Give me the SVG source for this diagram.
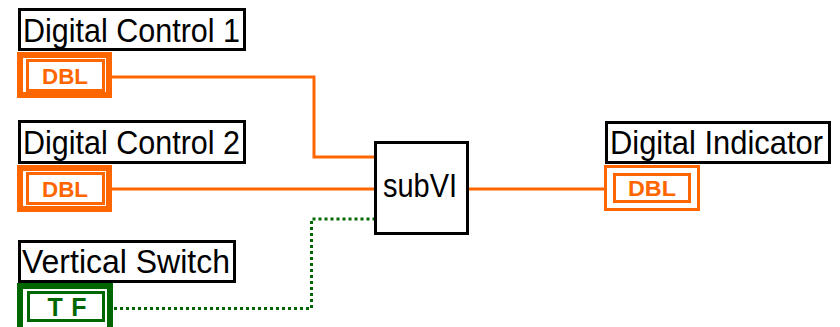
<svg xmlns="http://www.w3.org/2000/svg" width="840" height="327" viewBox="0 0 840 327">
<style>
.lbl{fill:#fff;stroke:#000;stroke-width:3}
.lt{font-family:"Liberation Sans",Arial,sans-serif;font-size:33px;fill:#000}
.ctl{fill:none;stroke:#FF6600;stroke-width:6}
.ind{fill:none;stroke:#FF6600;stroke-width:3}
.inr{fill:none;stroke:#FF6600;stroke-width:3}
.dbl{font-family:"Liberation Sans",Arial,sans-serif;font-size:22px;font-weight:bold;fill:#FF6600}
.tfo{fill:none;stroke:#006600;stroke-width:6}
.tfi{fill:none;stroke:#006600;stroke-width:3}
.tf{font-family:"Liberation Sans",Arial,sans-serif;font-size:25px;font-weight:bold;fill:#006600}
.w{fill:none;stroke:#FF6600;stroke-width:3}
.wb{fill:none;stroke:#006600;stroke-width:3;stroke-dasharray:3 3}
</style>
<rect width="840" height="327" fill="#fff"/>
<g id="connectors">
<polyline class="w" points="112,77 314,77 314,157 374,157"/>
<line class="w" x1="112" y1="189" x2="374" y2="189"/>
<polyline class="wb" points="114,308.5 311.5,308.5 311.5,219 374,219"/>
<line class="w" x1="469" y1="189" x2="605" y2="189"/>
</g>
<g id="dc1">
<rect class="lbl" x="19.5" y="9.5" width="225" height="40"/>
<text class="lt" x="23" y="42" textLength="217" lengthAdjust="spacingAndGlyphs">Digital Control 1</text>
<rect class="ctl" x="20" y="55" width="89" height="40"/>
<rect class="inr" x="27.5" y="60.5" width="76" height="30"/>
<text class="dbl" x="65" y="83.5" text-anchor="middle" textLength="46" lengthAdjust="spacingAndGlyphs">DBL</text>
</g>
<g id="dc2">
<rect class="lbl" x="19.5" y="121.5" width="225" height="41"/>
<text class="lt" x="23" y="154" textLength="217" lengthAdjust="spacingAndGlyphs">Digital Control 2</text>
<rect class="ctl" x="20" y="168" width="89" height="41"/>
<rect class="inr" x="27.5" y="173.5" width="76" height="30"/>
<text class="dbl" x="65" y="196.5" text-anchor="middle" textLength="46" lengthAdjust="spacingAndGlyphs">DBL</text>
</g>
<g id="vs">
<rect class="lbl" x="19.5" y="241.5" width="215" height="40"/>
<text class="lt" x="22" y="273" textLength="208" lengthAdjust="spacingAndGlyphs">Vertical Switch</text>
<rect class="tfo" x="20" y="286" width="90" height="46"/>
<rect class="tfi" x="28.5" y="292.5" width="75" height="28"/>
<text class="tf" x="67" y="315.5" text-anchor="middle" textLength="39" lengthAdjust="spacing">TF</text>
</g>
<g id="subvi">
<rect x="375.5" y="142.5" width="92" height="91" fill="#fff" stroke="#000" stroke-width="3"/>
<text class="lt" x="420" y="197" text-anchor="middle" font-size="31" textLength="74" lengthAdjust="spacingAndGlyphs">subVI</text>
</g>
<g id="di">
<rect class="lbl" x="606.5" y="122.5" width="223" height="40"/>
<text class="lt" x="610" y="154" textLength="213" lengthAdjust="spacingAndGlyphs">Digital Indicator</text>
<rect class="ind" x="605.5" y="166.5" width="93" height="43"/>
<rect class="inr" x="614.5" y="174.5" width="75" height="27"/>
<text class="dbl" x="652" y="195.5" text-anchor="middle" textLength="48" lengthAdjust="spacingAndGlyphs">DBL</text>
</g>
</svg>
